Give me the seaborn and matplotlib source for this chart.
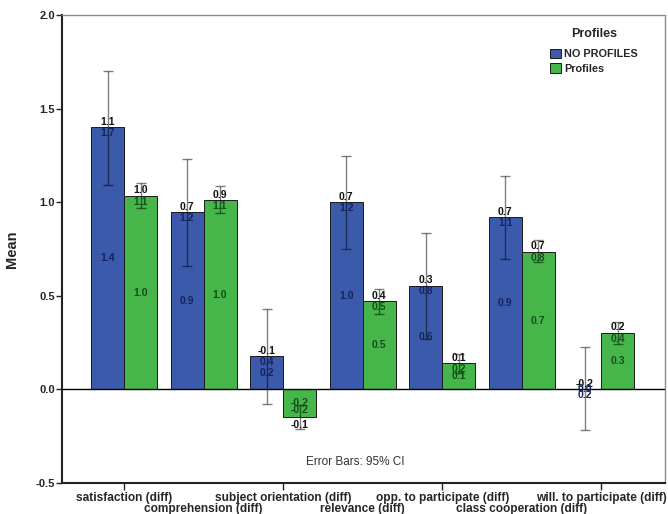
import numpy as np
import pandas as pd
import seaborn as sns
import matplotlib.pyplot as plt

# kategoriler (SPSS çıktısı, fark skorları)
categories = ['satisfaction (diff)', 'comprehension (diff)', 'subject orientation (diff)',
              'relevance (diff)', 'opp. to participate (diff)', 'class cooperation (diff)',
              'will. to participate (diff)']
groups = ['NO PROFILES', 'Profiles']

# ortalamalar
mean_no = [1.40, 0.946, 0.178, 1.00, 0.555, 0.92, 0.0]
mean_pr = [1.035, 1.01, -0.148, 0.47, 0.139, 0.736, 0.302]

# %95 güven aralığı (alt / üst)
lo_no = [1.093, 0.66, -0.076, 0.75, 0.27, 0.699, -0.217]
hi_no = [1.70, 1.23, 0.43, 1.248, 0.836, 1.138, 0.226]
lo_pr = [0.97, 0.94, -0.213, 0.405, 0.09, 0.68, 0.245]
hi_pr = [1.104, 1.084, -0.083, 0.537, 0.19, 0.796, 0.359]

# çubuk etiketleri (SPSS'in yazdığı haliyle)
lbl1_no = ['1.1', '0.7', '-0.1', '0.7', '0.3', '0.7', '-0.2']
lbl2_no = ['1.7', '1.2', '0.4', '1.2', '0.8', '1.1', '0.2']
lbl3_no = ['1.4', '0.9', '0.2', '1.0', '0.6', '0.9', '0.0']
lbl1_pr = ['1.0', '0.9', '-0.2', '0.4', '0.1', '0.7', '0.2']
lbl2_pr = ['1.1', '1.1', '-0.2', '0.5', '0.2', '0.8', '0.4']
lbl3_pr = ['1.0', '1.0', '-0.1', '0.5', '0.1', '0.7', '0.3']

df = pd.DataFrame({
    'cat': categories * 2,
    'Profiles': [groups[0]] * 7 + [groups[1]] * 7,
    'Mean': mean_no + mean_pr,
})

sns.set_style('white')
plt.rcParams['font.family'] = ['Liberation Sans', 'DejaVu Sans']

colors = {'NO PROFILES': '#3b5aab', 'Profiles': '#46b64a'}
txt_dark = {'NO PROFILES': '#16245e', 'Profiles': '#12501a'}

fig = plt.figure(figsize=(6.68, 5.14), dpi=100)
ax = fig.add_axes([0.0928, 0.0603, 0.9027, 0.9105])

sns.barplot(data=df, x='cat', y='Mean', hue='Profiles', palette=colors,
            width=0.83, errorbar=None, edgecolor='#1a1a1a', linewidth=0.7,
            saturation=1, ax=ax)

ax.axhline(0, color='black', lw=1, zorder=3)

# hata çubukları + etiketler
series = [(groups[0], mean_no, lo_no, hi_no, lbl1_no, lbl2_no, lbl3_no),
          (groups[1], mean_pr, lo_pr, hi_pr, lbl1_pr, lbl2_pr, lbl3_pr)]
fs = 7.5
for cont, (g, m, lo, hi, l1, l2, l3) in zip(ax.containers, series):
    for i, bar in enumerate(cont):
        xc = bar.get_x() + bar.get_width() / 2
        ax.errorbar(xc, m[i], yerr=[[m[i] - lo[i]], [hi[i] - m[i]]], fmt='none',
                    ecolor='black', alpha=0.5, elinewidth=1, capsize=3.5, capthick=1, zorder=4)
        if m[i] >= 0:
            ax.text(xc, m[i] + 0.003, l1[i], ha='center', va='bottom', fontsize=fs,
                    fontweight='bold', color='#111111', zorder=5)
            ax.text(xc, m[i] - 0.005, l2[i], ha='center', va='top', fontsize=fs,
                    fontweight='bold', color=txt_dark[g], zorder=5)
            ax.text(xc, m[i] / 2, l3[i], ha='center', va='center', fontsize=fs,
                    fontweight='bold', color=txt_dark[g], zorder=5)
        else:
            ax.text(xc, m[i] * 0.5, l1[i], ha='center', va='center', fontsize=fs,
                    fontweight='bold', color=txt_dark[g], zorder=5)
            ax.text(xc, m[i] * 0.75, l2[i], ha='center', va='center', fontsize=fs,
                    fontweight='bold', color=txt_dark[g], zorder=5)
            ax.text(xc, m[i] - 0.015, l3[i], ha='center', va='top', fontsize=fs,
                    fontweight='bold', color='#111111', zorder=5)

ax.set_ylim(-0.5, 2.0)
ax.set_xlim(-0.78, 6.8)
ax.set_yticks([-0.5, 0.0, 0.5, 1.0, 1.5, 2.0])
ax.set_yticklabels(['-0.5', '0.0', '0.5', '1.0', '1.5', '2.0'], fontweight='bold', fontsize=8)
ax.set_ylabel('Mean', fontweight='bold', fontsize=10.5, labelpad=12)
ax.set_xlabel('')

# x etiketleri iki sıra halinde
pos = np.arange(len(categories))
ax.set_xticks(pos[::2])
ax.set_xticklabels(categories[::2], fontweight='bold', fontsize=8.6)
ax.set_xticks(pos[1::2], minor=True)
ax.set_xticklabels(categories[1::2], minor=True, fontweight='bold', fontsize=8.6)
ax.tick_params(axis='x', which='major', length=4.8, width=1, color='#222222', pad=2, direction='out')
ax.tick_params(axis='x', which='minor', length=14.4, width=1, color='#222222', pad=0.3, direction='out')
ax.tick_params(axis='y', length=4, width=1, color='#222222', pad=1, direction='out')
ax.tick_params(bottom=True, left=True)

for s in ['left', 'bottom']:
    ax.spines[s].set_color('#222222')
    ax.spines[s].set_linewidth(1.5)
for s in ['top', 'right']:
    ax.spines[s].set_color('#8c8c8c')
    ax.spines[s].set_linewidth(1)

ax.text(0.486, 0.045, 'Error Bars: 95% CI', transform=ax.transAxes, ha='center',
        va='center', fontsize=8.5, color='#333333')

leg = ax.legend(title='Profiles', loc='upper right', bbox_to_anchor=(0.97, 0.99),
                frameon=False, handlelength=1.0, handleheight=1.0, handletextpad=0.3,
                labelspacing=0.35, borderpad=0.3,
                prop={'weight': 'bold', 'size': 7.8})
leg.get_title().set_fontweight('bold')
leg.get_title().set_fontsize(9)
leg._legend_box.sep = 6  # başlık ile öğeler arası boşluk
for h in leg.legend_handles:
    h.set_edgecolor('#1a1a1a')
    h.set_linewidth(0.7)

fig.savefig('out.png', dpi=100)
